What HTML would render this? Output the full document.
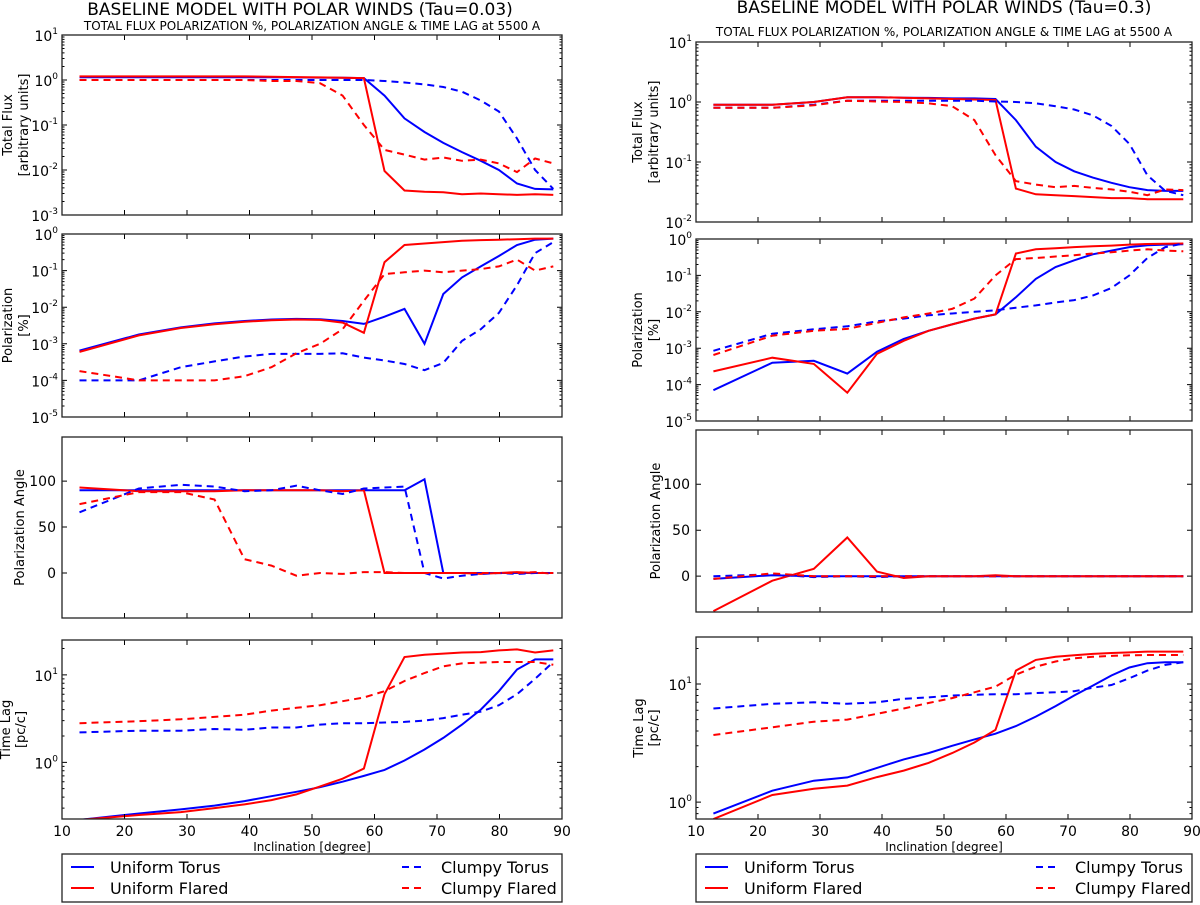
<!DOCTYPE html>
<html><head><meta charset="utf-8">
<style>
html,body{margin:0;padding:0;background:#fff;}
svg{display:block;font-family:"DejaVu Sans","Liberation Sans",sans-serif;}
</style></head>
<body>
<svg id="fig" width="1200" height="905" viewBox="0 0 1200 905" xmlns="http://www.w3.org/2000/svg">
<text x="300" y="15" font-size="17" text-anchor="middle">BASELINE MODEL WITH POLAR WINDS (Tau=0.03)</text>
<text x="312" y="30" font-size="12" text-anchor="middle">TOTAL FLUX POLARIZATION %, POLARIZATION ANGLE &amp; TIME LAG at 5500 A</text>
<text x="944" y="13" font-size="17" text-anchor="middle">BASELINE MODEL WITH POLAR WINDS (Tau=0.3)</text>
<text x="944" y="36" font-size="12" text-anchor="middle">TOTAL FLUX POLARIZATION %, POLARIZATION ANGLE &amp; TIME LAG at 5500 A</text>
</svg>
<script>
// ===== shared data =====
const inclination = [12.8,22.3,29.0,34.4,39.2,43.5,47.5,51.3,54.9,58.3,61.6,64.8,68.0,71.0,74.0,77.0,79.9,82.8,85.7,88.6];
const xTicks = [10,20,30,40,50,60,70,80,90];
const seriesNames = ["Uniform Torus","Uniform Flared","Clumpy Torus","Clumpy Flared"];

// ===== left (Tau=0.03) =====
const L_flux_ut = [1.15,1.15,1.15,1.15,1.15,1.15,1.14,1.13,1.12,1.1,0.45,0.14,0.07,0.04,0.025,0.016,0.01,0.005,0.0038,0.0037];
const L_flux_uf = [1.2,1.2,1.2,1.2,1.2,1.18,1.16,1.14,1.12,1.1,0.0095,0.0035,0.0033,0.0032,0.0029,0.003,0.0029,0.0028,0.0029,0.0028];
const L_flux_ct = [1.0,1.0,1.0,1.0,1.0,1.0,1.0,1.0,1.0,1.0,0.95,0.88,0.8,0.7,0.55,0.35,0.2,0.05,0.01,0.0038];
const L_flux_cf = [1.0,1.0,1.0,1.0,1.0,0.95,0.95,0.85,0.45,0.1,0.028,0.022,0.017,0.019,0.016,0.017,0.014,0.009,0.018,0.014];
const L_pol_ut = [6.5e-4,1.8e-3,2.8e-3,3.6e-3,4.2e-3,4.6e-3,4.8e-3,4.7e-3,4.2e-3,3.5e-3,5.5e-3,9e-3,1e-3,2.3e-2,6.5e-2,0.13,0.25,0.5,0.7,0.75];
const L_pol_uf = [6e-4,1.7e-3,2.7e-3,3.4e-3,4e-3,4.4e-3,4.6e-3,4.5e-3,3.8e-3,2e-3,0.17,0.5,0.55,0.6,0.65,0.68,0.7,0.72,0.75,0.75];
const L_pol_ct = [1e-4,1e-4,2.3e-4,3.3e-4,4.5e-4,5.3e-4,5.3e-4,5.3e-4,5.5e-4,4.2e-4,3.5e-4,2.8e-4,1.9e-4,3e-4,1.2e-3,2.5e-3,7e-3,4e-2,0.3,0.6];
const L_pol_cf = [1.8e-4,1e-4,1e-4,1e-4,1.3e-4,2.3e-4,5.5e-4,1e-3,2.5e-3,1.5e-2,8e-2,9e-2,0.1,0.09,0.1,0.11,0.13,0.2,0.1,0.13];
const L_ang_ut = [90,90,90,90,90,90,90,90,90,90,90,90,102,0,0,0,0,0,0,0];
const L_ang_uf = [93,89,89,89,90,90,90,90,89,90,0,0,0,0,0,-1,0,1,0,0];
const L_ang_ct = [66,92,96,94,89,90,95,90,86,92,93,94,0,-6,-3,-1,0,-1,0,0];
const L_ang_cf = [75,88,88,80,15,8,-3,0,-1,1,1,0,0,0,0,0,0,0,1,-1];
const L_lag_ut = [0.22,0.26,0.29,0.32,0.36,0.41,0.46,0.52,0.6,0.7,0.82,1.05,1.4,1.9,2.7,4,6.5,11.5,15,15];
const L_lag_uf = [0.22,0.25,0.27,0.3,0.33,0.37,0.43,0.53,0.65,0.85,6,16,17,17.5,18,18.2,19,19.5,18,19];
const L_lag_ct = [2.2,2.3,2.3,2.4,2.35,2.5,2.5,2.7,2.8,2.8,2.85,2.9,3.0,3.2,3.5,3.8,4.5,6,9,14];
const L_lag_cf = [2.8,2.95,3.1,3.3,3.5,3.9,4.2,4.5,5,5.5,6.5,8.5,10.5,12.5,13.5,13.8,14,14,14,13];

// ===== right (Tau=0.3) =====
const R_flux_ut = [0.9,0.9,1.0,1.2,1.2,1.18,1.17,1.15,1.15,1.12,0.5,0.18,0.1,0.07,0.055,0.045,0.038,0.034,0.033,0.033];
const R_flux_uf = [0.9,0.9,1.0,1.2,1.2,1.18,1.15,1.12,1.1,1.08,0.036,0.029,0.028,0.027,0.026,0.025,0.025,0.024,0.024,0.024];
const R_flux_ct = [0.8,0.8,0.9,1.05,1.05,1.05,1.05,1.05,1.05,1.02,1.0,0.95,0.85,0.75,0.6,0.4,0.2,0.06,0.033,0.028];
const R_flux_cf = [0.8,0.8,0.88,1.05,1.02,1.0,0.95,0.85,0.5,0.13,0.048,0.042,0.038,0.04,0.037,0.035,0.032,0.028,0.035,0.034];
const R_pol_ut = [7e-5,4e-4,4.5e-4,2e-4,8e-4,1.8e-3,3e-3,4.5e-3,6.5e-3,8.5e-3,2.5e-2,8e-2,0.17,0.26,0.38,0.48,0.6,0.67,0.7,0.72];
const R_pol_uf = [2.3e-4,5.5e-4,3.7e-4,6e-5,7e-4,1.6e-3,3e-3,4.5e-3,6.5e-3,8.5e-3,0.4,0.52,0.56,0.6,0.63,0.66,0.7,0.73,0.74,0.75];
const R_pol_ct = [8.5e-4,2.5e-3,3.3e-3,4e-3,5.5e-3,6.5e-3,8e-3,9e-3,1e-2,1.1e-2,1.3e-2,1.5e-2,1.8e-2,2.1e-2,2.8e-2,4.5e-2,0.1,0.3,0.6,0.75];
const R_pol_cf = [6.5e-4,2.2e-3,3e-3,3.4e-3,5e-3,7e-3,9e-3,1.2e-2,2.3e-2,0.1,0.28,0.3,0.33,0.36,0.4,0.43,0.48,0.52,0.48,0.46];
const R_ang_ut = [-3,1,0,0,0,0,0,0,0,0,0,0,0,0,0,0,0,0,0,0];
const R_ang_uf = [-38,-5,8,42,5,-2,0,0,0,1,0,0,0,0,0,0,0,0,0,0];
const R_ang_ct = [0,2,-1,0,-1,0,0,0,0,0,0,0,0,0,0,0,0,0,0,0];
const R_ang_cf = [-3,3,0,0,0,0,0,0,0,0,0,0,0,0,0,0,0,0,0,0];
const R_lag_ut = [0.8,1.25,1.52,1.62,1.95,2.3,2.6,3.0,3.4,3.8,4.4,5.3,6.5,8.0,9.7,11.8,13.8,15,15.3,15.3];
const R_lag_uf = [0.72,1.15,1.3,1.38,1.63,1.85,2.15,2.6,3.2,4.1,13,16,17,17.5,18,18.3,18.5,18.8,18.8,18.8];
const R_lag_ct = [6.2,6.8,7.0,6.8,7.0,7.5,7.7,8.0,8.1,8.2,8.2,8.4,8.5,8.7,9.3,9.8,11.2,13,14.5,15.3];
const R_lag_cf = [3.7,4.3,4.8,5.0,5.6,6.2,6.9,7.6,8.5,9.5,12,14,15.5,16.5,17,17.3,17.5,17.6,17.6,17.6];

const angTicks = [0,50,100];

const NS = "http://www.w3.org/2000/svg";
const svg = document.getElementById("fig");
function mk(tag, attrs, parent){
  const e = document.createElementNS(NS, tag);
  for (const k in attrs) e.setAttribute(k, attrs[k]);
  (parent||svg).appendChild(e);
  return e;
}
const styles = [
  {color:"#0000ff", dash:null},
  {color:"#ff0000", dash:null},
  {color:"#0000ff", dash:"7,5"},
  {color:"#ff0000", dash:"7,5"}
];
const keys = ["uniform-torus","uniform-flared","clumpy-torus","clumpy-flared"];

function drawPanel(p){
  const g = mk("g", {});
  
  
  const xS = v => p.x0 + (v - 10) / 80 * (p.x1 - p.x0);
  let yS;
  if (p.log) {
    const a = Math.log10(p.ymin), b = Math.log10(p.ymax);
    yS = v => p.y1 - (Math.log10(v) - a) / (b - a) * (p.y1 - p.y0);
  } else {
    yS = v => p.y1 - (v - p.ymin) / (p.ymax - p.ymin) * (p.y1 - p.y0);
  }
  const cid = "clip-" + p.name;
  const cp = mk("clipPath", {id: cid}, g);
  mk("rect", {x:p.x0, y:p.y0, width:p.x1-p.x0, height:p.y1-p.y0}, cp);
  p.series.forEach((arr, i) => {
    const d = arr.map((v, j) => (j ? "L" : "M") + xS(inclination[j]).toFixed(1) + "," + yS(v).toFixed(1)).join(" ");
    const path = mk("path", {d:d, fill:"none", stroke:styles[i].color, "stroke-width":"2", "clip-path":"url(#"+cid+")"}, g);
    if (styles[i].dash) path.setAttribute("stroke-dasharray", styles[i].dash);
    
    
  });
  let tk = "";
  xTicks.forEach(t => {
    const x = xS(t);
    tk += `M${x},${p.y1}v-5M${x},${p.y0}v5`;
  });
  if (p.log) {
    const a = Math.ceil(Math.log10(p.ymin) - 1e-9), b = Math.floor(Math.log10(p.ymax) + 1e-9);
    for (let e = Math.floor(Math.log10(p.ymin)); e <= b; e++) {
      for (let m = 1; m < 10; m++) {
        const v = m * Math.pow(10, e);
        if (v < p.ymin * 0.999 || v > p.ymax * 1.001) continue;
        const y = yS(v), L = m === 1 ? 5 : 2.5;
        tk += `M${p.x0},${y}h${L}M${p.x1},${y}h-${L}`;
      }
    }
    for (let e = a; e <= b; e++) {
      const t = mk("text", {x:p.x0 - 4, y:yS(Math.pow(10, e)) + 6, "font-size":"14", "text-anchor":"end"}, g);
      t.textContent = "10";
      const s = mk("tspan", {dy:"-7", "font-size":"9"}, t);
      s.textContent = String(e);
      
      
    }
  } else {
    angTicks.forEach(v => {
      const y = yS(v);
      tk += `M${p.x0},${y}h5M${p.x1},${y}h-5`;
      const t = mk("text", {x:p.x0 - 6, y:y + 5, "font-size":"14", "text-anchor":"end"}, g);
      t.textContent = String(v);
      
      
    });
  }
  mk("path", {d:tk, stroke:"#000", "stroke-width":"1", fill:"none"}, g);
  const fr = mk("rect", {x:p.x0, y:p.y0, width:p.x1-p.x0, height:p.y1-p.y0, fill:"none", stroke:"#222", "stroke-width":"1.3"}, g);
  
  
  const cy = (p.y0 + p.y1) / 2;
  p.ylabel.forEach((line, k) => {
    const lx = p.ylx[k];
    const t = mk("text", {x:lx, y:cy, "font-size":"13", "text-anchor":"middle", transform:`rotate(-90 ${lx} ${cy})`}, g);
    t.textContent = line;
    
    
  });
  if (p.xlabels) {
    xTicks.forEach(t => {
      const tx = mk("text", {x:xS(t), y:p.y1 + 17, "font-size":"14", "text-anchor":"middle"}, g);
      tx.textContent = String(t);
      
      
    });
    const xl = mk("text", {x:(p.x0 + p.x1) / 2, y:p.y1 + 32, "font-size":"12", "text-anchor":"middle"}, g);
    xl.textContent = "Inclination [degree]";
    
    
  }
}

function drawLegend(x0, x1, y0, y1, side){
  const g = mk("g", {});
  
  
  mk("rect", {x:x0, y:y0, width:x1-x0, height:y1-y0, fill:"#fff", stroke:"#222", "stroke-width":"1.3"}, g);
  const rows = [y0 + 13, y0 + 34];
  const pos = [[x0 + 9, rows[0]], [x0 + 9, rows[1]], [x0 + 340, rows[0]], [x0 + 340, rows[1]]];
  seriesNames.forEach((n, i) => {
    const [lx, ly] = pos[i];
    const ln = mk("line", {x1:lx, x2:lx + 23, y1:ly, y2:ly, stroke:styles[i].color, "stroke-width":"2"}, g);
    if (styles[i].dash) ln.setAttribute("stroke-dasharray", "7,5");
    const t = mk("text", {x:lx + 39, y:ly + 6, "font-size":"16"}, g);
    t.textContent = n;
    
    
  });
}

const LX0 = 62, LX1 = 562, RX0 = 696, RX1 = 1192;
const panels = [
  {name:"left-total-flux", x0:LX0, x1:LX1, y0:35, y1:215, log:true, ymin:1e-3, ymax:10, series:[L_flux_ut,L_flux_uf,L_flux_ct,L_flux_cf], ylabel:["Total Flux","[arbitrary units]"], ylx:[12,28]},
  {name:"left-polarization", x0:LX0, x1:LX1, y0:234, y1:417, log:true, ymin:1e-5, ymax:1, series:[L_pol_ut,L_pol_uf,L_pol_ct,L_pol_cf], ylabel:["Polarization","[%]"], ylx:[12,28]},
  {name:"left-polarization-angle", x0:LX0, x1:LX1, y0:437, y1:618, log:false, ymin:-49, ymax:148, series:[L_ang_ut,L_ang_uf,L_ang_ct,L_ang_cf], ylabel:["Polarization Angle"], ylx:[24]},
  {name:"left-time-lag", x0:LX0, x1:LX1, y0:640, y1:819, log:true, ymin:0.225, ymax:25, series:[L_lag_ut,L_lag_uf,L_lag_ct,L_lag_cf], ylabel:["Time Lag","[pc/c]"], ylx:[10,25], xlabels:true},
  {name:"right-total-flux", x0:RX0, x1:RX1, y0:42, y1:222, log:true, ymin:1e-2, ymax:10, series:[R_flux_ut,R_flux_uf,R_flux_ct,R_flux_cf], ylabel:["Total Flux","[arbitrary units]"], ylx:[642,658]},
  {name:"right-polarization", x0:RX0, x1:RX1, y0:239, y1:421, log:true, ymin:1e-5, ymax:1, series:[R_pol_ut,R_pol_uf,R_pol_ct,R_pol_cf], ylabel:["Polarization","[%]"], ylx:[642,658]},
  {name:"right-polarization-angle", x0:RX0, x1:RX1, y0:430, y1:612, log:false, ymin:-39, ymax:159, series:[R_ang_ut,R_ang_uf,R_ang_ct,R_ang_cf], ylabel:["Polarization Angle"], ylx:[660]},
  {name:"right-time-lag", x0:RX0, x1:RX1, y0:637, y1:819, log:true, ymin:0.72, ymax:25, series:[R_lag_ut,R_lag_uf,R_lag_ct,R_lag_cf], ylabel:["Time Lag","[pc/c]"], ylx:[643,658], xlabels:true}
];
panels.forEach(drawPanel);
drawLegend(LX0, LX1, 854, 902, "left");
drawLegend(RX0, RX1, 854, 902, "right");
</script>
</body></html>
